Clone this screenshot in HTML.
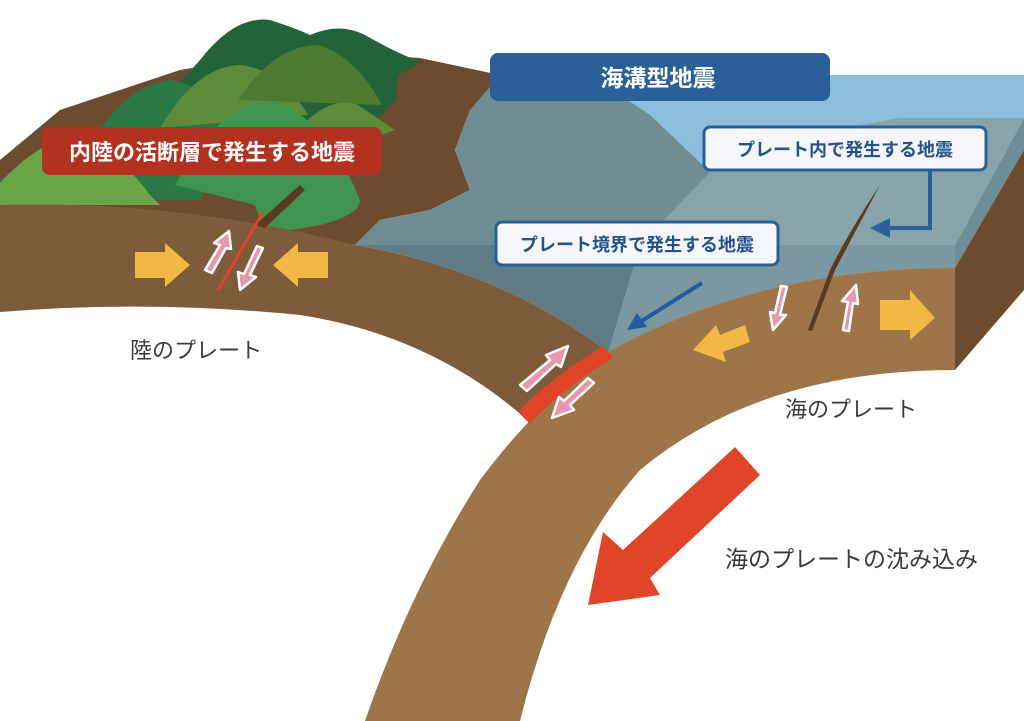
<!DOCTYPE html>
<html><head><meta charset="utf-8"><style>
html,body{margin:0;padding:0;background:#fff;}
svg{display:block;}
text{font-family:"Liberation Sans","Noto Sans CJK JP",sans-serif;}
.b{font-weight:bold;}
.n{font-weight:normal;}
</style></head><body>
<svg width="1024" height="721" viewBox="0 0 1024 721" xmlns="http://www.w3.org/2000/svg">
<rect width="1024" height="721" fill="#fff"/>
<!-- land top face -->
<path d="M0,205 L0,160 L60,110 L180,70 L300,50 L420,58 L500,75 L520,90 L470,110 L455,150 L470,190 L430,210 L380,220 L355,245 Z" fill="#6c4b2f"/>
<!-- water top face base -->
<path d="M470,110 L500,75 L1024,75 L1024,110 L955,245 L355,245 L380,220 L430,210 L470,190 L455,150 Z" fill="#718d94"/>
<path d="M590,75 L1024,75 L1024,118 L900,118 L780,140 L710,172 L650,115 Z" fill="#8dbfdc"/>
<path d="M710,172 L780,140 L900,118 L1024,118 L955,245 L640,245 Z" fill="#88a4ab"/>
<!-- front face water -->
<path d="M355,245 L955,245 L955,268 Q760,268 608,352 Q500,270 355,245 Z" fill="#5f7b86"/>
<path d="M640,245 L955,245 L955,268 Q760,268 608,352 Z" fill="#7b98a1"/>
<!-- box right side -->
<path d="M955,245 L1024,118 L1024,150 L955,268 Z" fill="#6d8d98"/>
<path d="M955,268 L1024,150 L1024,290 L955,370 Z" fill="#6c4b2e"/>
<!-- mountains -->
<path d="M110,140 Q170,95 200,60 Q235,15 270,20 Q295,28 310,35 Q340,22 365,35 Q400,55 422,62 L398,75 L396,100 L382,115 L330,150 L150,185 Z" fill="#22633a"/>
<path d="M0,200 L0,180 Q60,140 100,130 Q130,85 170,80 Q205,85 235,125 L200,200 Z" fill="#2c7845"/>
<path d="M160,128 Q195,68 238,65 Q280,68 308,115 Z" fill="#5c8c3a"/>
<path d="M238,100 Q275,45 318,45 Q355,55 382,105 Z" fill="#4b7a30"/>
<path d="M0,205 L0,183 Q30,150 60,140 Q110,140 150,195 L160,205 Z" fill="#6aa548"/>
<path d="M300,128 Q330,95 358,105 L395,130 L340,150 Z" fill="#5d8a3b"/>
<path d="M175,185 Q210,120 250,105 Q282,95 312,125 Q340,150 360,200 Q360,215 320,225 L265,235 L255,205 Z" fill="#3f9450"/>
<!-- continental plate front -->
<path d="M0,205 Q180,200 355,245 Q500,270 608,352 L525,418 Q430,335 300,315 Q150,300 0,312 Z" fill="#7e5b3b"/>
<path d="M255,225 L300,185 L305,190 L265,228 Z" fill="#5a3b22"/>
<line x1="263" y1="212" x2="218" y2="290" stroke="#e04426" stroke-width="3"/>
<!-- ocean plate -->
<path d="M955,268 Q760,268 608,352 Q540,400 480,480 Q410,590 365,721 L520,721 Q560,560 640,470 Q760,370 955,370 Z" fill="#9d7549"/>
<path d="M603,346 L613,358 Q560,390 530,424 L518,412 Q550,378 603,346 Z" fill="#e04426"/>
<path d="M880,185 Q850,230 830,270 L808,330 L812,331 L835,270 Z" fill="#5a3a20"/>
<!-- yellow arrows -->
<g fill="#f0b845">
<path d="M135,252 L165,252 L165,243 L190,265 L165,287 L165,278 L135,278 Z"/>
<path d="M328,252 L298,252 L298,243 L273,265 L298,287 L298,278 L328,278 Z"/>
<path d="M880,300 L910,300 L910,290 L935,318 L910,340 L910,330 L880,330 Z"/>
<path d="M745,325 L720,335 L716,325 L693,350 L726,362 L723,352 L750,342 Z"/>
</g>
<!-- pink arrows -->
<g fill="#e996ad" stroke="#fff" stroke-width="2.5" stroke-linejoin="round">
<path d="M205,270 L220,245 L214,243 L229,231 L231,249 L226,248 L212,273 Z"/>
<path d="M263,248 L250,275 L256,277 L240,290 L238,272 L244,274 L257,246 Z"/>
<path d="M520,385 L550,360 L546,355 L568,346 L561,367 L556,364 L527,391 Z"/>
<path d="M594,383 L570,405 L574,410 L552,418 L559,397 L564,401 L588,378 Z"/>
<path d="M787,287 L780,315 L786,315 L773,330 L770,312 L775,313 L781,286 Z"/>
<path d="M843,330 L848,302 L842,301 L856,285 L858,304 L853,303 L849,331 Z"/>
</g>
<!-- big red arrow -->
<path d="M735,447 L760,475 L650,578 L660,595 L588,605 L603,532 L623,550 Z" fill="#e0452a"/>
<!-- labels -->
<rect x="490" y="53" width="340" height="48" rx="8" fill="#2a5f98"/>
<text class="b" x="658" y="86" font-size="23" fill="#fff" text-anchor="middle">海溝型地震</text>
<rect x="42" y="127" width="340" height="48" rx="8" fill="#b3321f"/>
<text class="b" x="212" y="160" font-size="22" fill="#fff" text-anchor="middle">内陸の活断層で発生する地震</text>
<rect x="704" y="127" width="282" height="43" rx="6" fill="#f4f6f9" stroke="#2a5f98" stroke-width="3"/>
<text class="b" x="845" y="156" font-size="18" fill="#23538a" text-anchor="middle">プレート内で発生する地震</text>
<rect x="496" y="222" width="282" height="43" rx="6" fill="#f4f6f9" stroke="#2a5f98" stroke-width="3"/>
<text class="b" x="637" y="251" font-size="18" fill="#23538a" text-anchor="middle">プレート境界で発生する地震</text>
<path d="M930,170 L930,228 L885,228" fill="none" stroke="#2a5f98" stroke-width="4"/>
<path d="M870,228 L890,218 L890,238 Z" fill="#2a5f98"/>
<line x1="702" y1="283" x2="640" y2="322" stroke="#1f5ea5" stroke-width="4"/>
<path d="M627,330 L637,313 L647,327 Z" fill="#1f5ea5"/>
<text class="n" x="130" y="358" font-size="22" fill="#3a3a3a">陸のプレート</text>
<text class="n" x="785" y="417" font-size="22" fill="#3a3a3a">海のプレート</text>
<text class="n" x="725" y="567" font-size="23" fill="#3a3a3a">海のプレートの沈み込み</text>
</svg>
</body></html>
